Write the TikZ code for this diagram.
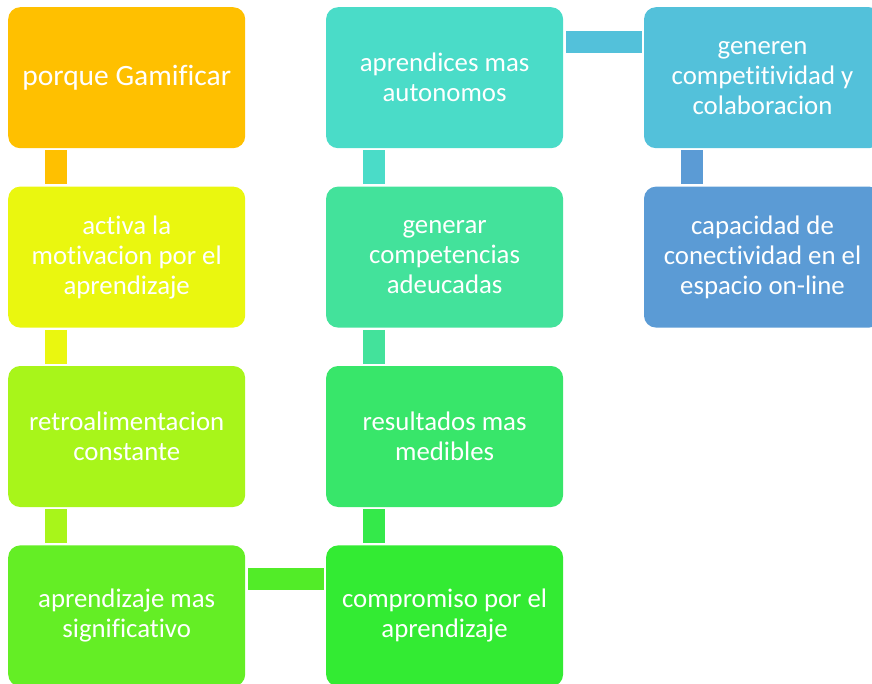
\documentclass[tikz,border=0pt]{standalone}
\usepackage{fontspec}
\setmainfont{Carlito}[Ligatures=NoCommon]
\usetikzlibrary{positioning,calc}
\definecolor{gold}{HTML}{FFC000}
\definecolor{lemon}{HTML}{EAF70F}
\definecolor{lime}{HTML}{A8F51A}
\definecolor{leaf}{HTML}{64EE25}
\definecolor{leafbar}{HTML}{52EC28}
\definecolor{grass}{HTML}{33EB33}
\definecolor{grassbar}{HTML}{34E94A}
\definecolor{mint}{HTML}{38E66A}
\definecolor{jade}{HTML}{43E29B}
\definecolor{aqua}{HTML}{4ADCC8}
\definecolor{sky}{HTML}{53C1DA}
\definecolor{steel}{HTML}{5B9BD5}

\begin{document}
\begin{tikzpicture}[x=1pt,y=1pt,
  every node/.style={font=\fontsize{26.8}{30}\selectfont,align=center,text=white},
  blk/.style={rounded corners=12pt,minimum width=237pt,minimum height=141pt,inner sep=0pt},
  node distance=38pt and 80.5pt]
\useasboundingbox (0,0) rectangle (872,-684);
\clip (0,0) rectangle (872,-684);
% first column, going down
\node[blk,fill=gold,anchor=north west,font=\fontsize{29.5}{34}\selectfont] (porque) at (8,-7) {porque Gamificar};
\node[blk,fill=lemon,below=of porque] (activa) {activa la\\motivacion por el\\aprendizaje};
\node[blk,fill=lime,below=of activa] (retro) {retroalimentacion\\constante};
\node[blk,fill=leaf,below=of retro] (signif) {aprendizaje mas\\significativo};
% second column, going up
\node[blk,fill=grass,right=of signif] (compromiso) {compromiso por el\\aprendizaje};
\node[blk,fill=mint,above=of compromiso] (medibles) {resultados mas\\medibles};
\node[blk,fill=jade,above=of medibles] (competencias) {generar\\competencias\\adeucadas};
\node[blk,fill=aqua,above=of competencias] (autonomos) {aprendices mas\\autonomos};
% third column
\node[blk,fill=sky,right=of autonomos] (colaboracion) {generen\\competitividad y\\colaboracion};
\node[blk,fill=steel,below=of colaboracion] (conectividad) {capacidad de\\conectividad en el\\espacio on-line};
% bars
\foreach \a/\b/\c in {porque/activa/gold,activa/retro/lemon,retro/signif/lime,
  medibles/compromiso/grassbar,competencias/medibles/jade,autonomos/competencias/aqua,
  colaboracion/conectividad/steel}
  \draw[line width=22pt,\c] ($(\a.south west)+(48,-2)$) -- ($(\b.north west)+(48,2)$);
\draw[line width=22pt,leafbar] ($(signif.north east)+(3,-34)$) -- ($(compromiso.north west)+(-2,-34)$);
\draw[line width=22pt,sky] ($(autonomos.north east)+(3,-35)$) -- ($(colaboracion.north west)+(-2,-35)$);
\end{tikzpicture}
\end{document}
